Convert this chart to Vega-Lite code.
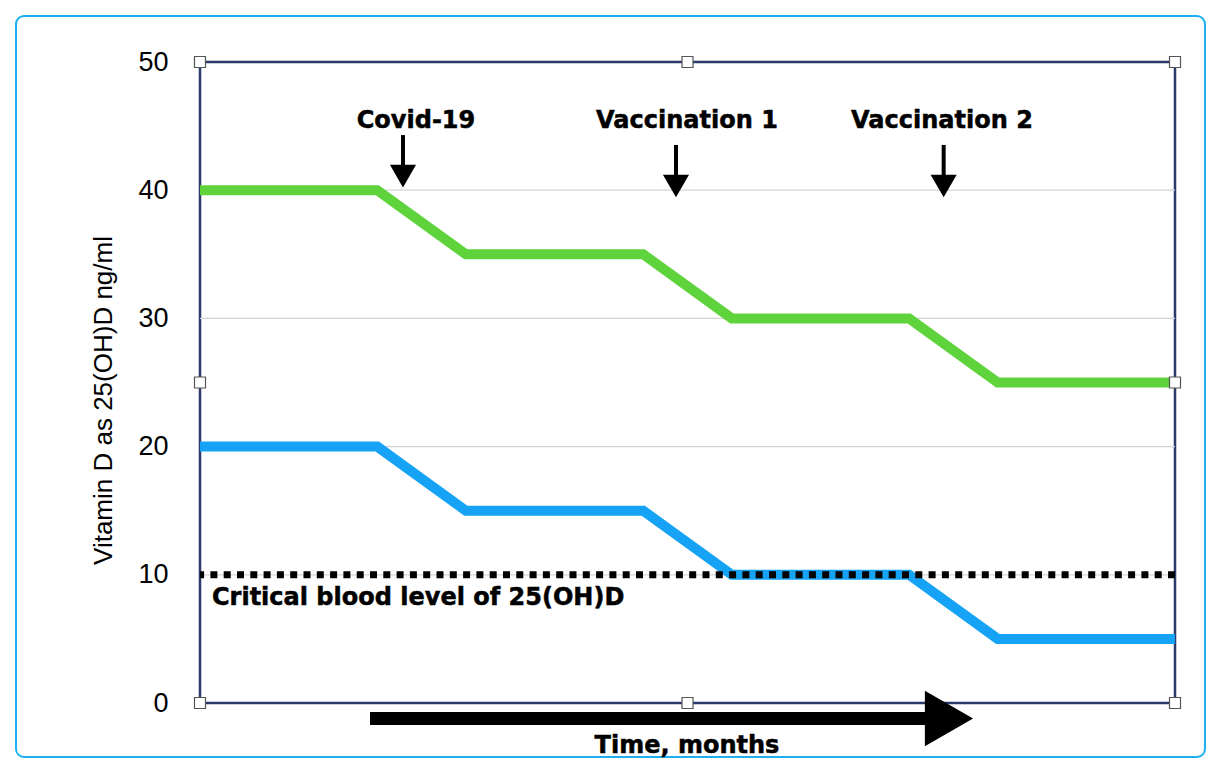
{
  "$schema": "https://vega.github.io/schema/vega-lite/v6.json",
  "width": 975,
  "height": 641,
  "autosize": {"type": "none"},
  "padding": {"left": 200, "top": 62, "right": 46, "bottom": 70},
  "background": "white",
  "config": {
    "view": {"stroke": "#2a3a6c", "strokeWidth": 2.5},
    "font": "Liberation Sans"
  },
  "datasets": {
    "series": [
      {"t": 0, "level": 40, "group": "high"},
      {"t": 2, "level": 40, "group": "high"},
      {"t": 3, "level": 35, "group": "high"},
      {"t": 5, "level": 35, "group": "high"},
      {"t": 6, "level": 30, "group": "high"},
      {"t": 8, "level": 30, "group": "high"},
      {"t": 9, "level": 25, "group": "high"},
      {"t": 11, "level": 25, "group": "high"},
      {"t": 0, "level": 20, "group": "low"},
      {"t": 2, "level": 20, "group": "low"},
      {"t": 3, "level": 15, "group": "low"},
      {"t": 5, "level": 15, "group": "low"},
      {"t": 6, "level": 10, "group": "low"},
      {"t": 8, "level": 10, "group": "low"},
      {"t": 9, "level": 5, "group": "low"},
      {"t": 11, "level": 5, "group": "low"}
    ],
    "gridlines": [{"level": 10}, {"level": 20}, {"level": 30}, {"level": 40}],
    "threshold": [{"level": 10, "t": 0.135, "labelLevel": 7.64, "label": "Critical blood level of 25(OH)D"}],
    "events": [
      {"label": "Covid-19", "labelT": 2.437, "labelLevel": 44.85, "arrowT": 2.29, "top": 44.3, "head": 41.1},
      {"label": "Vaccination 1", "labelT": 5.494, "labelLevel": 44.85, "arrowT": 5.37, "top": 43.53, "head": 40.33},
      {"label": "Vaccination 2", "labelT": 8.371, "labelLevel": 44.85, "arrowT": 8.39, "top": 43.53, "head": 40.33}
    ],
    "timeArrow": [{"start": 1.918, "end": 8.3, "head": 8.45, "level": -1.209, "label": "Time, months", "labelT": 5.494, "labelLevel": -3.9}],
    "frame": [{"t1": -2.076, "t2": 11.338, "l1": 53.588, "l2": -4.212}],
    "handles": [
      {"t": 0, "level": 50}, {"t": 5.5, "level": 50}, {"t": 11, "level": 50},
      {"t": 0, "level": 25}, {"t": 11, "level": 25},
      {"t": 0, "level": 0}, {"t": 5.5, "level": 0}, {"t": 11, "level": 0}
    ]
  },
  "layer": [
    {
      "data": {"name": "frame"},
      "mark": {"type": "rect", "filled": false, "stroke": "#1cb0f0", "strokeWidth": 2, "cornerRadius": 8},
      "encoding": {
        "x": {"field": "t1", "type": "quantitative", "scale": {"domain": [0, 11], "nice": false}, "axis": null},
        "x2": {"field": "t2"},
        "y": {"field": "l1", "type": "quantitative", "scale": {"domain": [0, 50], "nice": false}, "title": "Vitamin D as 25(OH)D ng/ml"},
        "y2": {"field": "l2"}
      }
    },
    {
      "data": {"name": "gridlines"},
      "mark": {"type": "rule", "color": "#d4d4d4", "strokeWidth": 1.2},
      "encoding": {
        "y": {"field": "level", "type": "quantitative", "scale": {"domain": [0, 50], "nice": false}, "title": "Vitamin D as 25(OH)D ng/ml"}
      }
    },
    {
      "data": {"name": "series"},
      "mark": {"type": "line", "strokeWidth": 10, "strokeJoin": "miter"},
      "encoding": {
        "x": {"field": "t", "type": "quantitative", "scale": {"domain": [0, 11], "nice": false}, "axis": null},
        "y": {
          "field": "level", "type": "quantitative",
          "scale": {"domain": [0, 50], "nice": false},
          "title": "Vitamin D as 25(OH)D ng/ml",
          "axis": {
            "values": [0, 10, 20, 30, 40, 50],
            "titleFont": "Liberation Sans", "titleFontSize": 26, "titleFontWeight": "normal", "titleColor": "black",
            "titleX": -89, "titleY": 338, "titleBaseline": "alphabetic", "titleAngle": -90, "titleAlign": "center",
            "labelFont": "Liberation Sans", "labelFontSize": 27, "labelColor": "black", "labelPadding": 32,
            "ticks": false, "domain": false, "grid": false
          }
        },
        "color": {"field": "group", "type": "nominal", "scale": {"domain": ["high", "low"], "range": ["#5ed33b", "#16a3f6"]}, "legend": null},
        "detail": {"field": "group"}
      }
    },
    {
      "data": {"name": "threshold"},
      "mark": {"type": "rule", "color": "black", "strokeWidth": 7, "strokeDash": [7, 6.3], "strokeCap": "butt"},
      "encoding": {
        "y": {"field": "level", "type": "quantitative", "scale": {"domain": [0, 50], "nice": false}, "title": "Vitamin D as 25(OH)D ng/ml"}
      }
    },
    {
      "data": {"name": "threshold"},
      "mark": {"type": "text", "font": "DejaVu Sans", "fontWeight": "bold", "fontSize": 24, "align": "left", "baseline": "alphabetic", "color": "black", "stroke": "black", "strokeWidth": 0.5},
      "encoding": {
        "x": {"field": "t", "type": "quantitative", "scale": {"domain": [0, 11], "nice": false}, "axis": null},
        "y": {"field": "labelLevel", "type": "quantitative", "scale": {"domain": [0, 50], "nice": false}, "title": "Vitamin D as 25(OH)D ng/ml"},
        "text": {"field": "label"}
      }
    },
    {
      "data": {"name": "events"},
      "mark": {"type": "text", "font": "DejaVu Sans", "fontWeight": "bold", "fontSize": 24, "align": "center", "baseline": "alphabetic", "color": "black", "stroke": "black", "strokeWidth": 0.5},
      "encoding": {
        "x": {"field": "labelT", "type": "quantitative", "scale": {"domain": [0, 11], "nice": false}, "axis": null},
        "y": {"field": "labelLevel", "type": "quantitative", "scale": {"domain": [0, 50], "nice": false}, "title": "Vitamin D as 25(OH)D ng/ml"},
        "text": {"field": "label"}
      }
    },
    {
      "data": {"name": "events"},
      "mark": {"type": "rule", "color": "black", "strokeWidth": 4},
      "encoding": {
        "x": {"field": "arrowT", "type": "quantitative", "scale": {"domain": [0, 11], "nice": false}, "axis": null},
        "y": {"field": "top", "type": "quantitative", "scale": {"domain": [0, 50], "nice": false}, "title": "Vitamin D as 25(OH)D ng/ml"},
        "y2": {"field": "head"}
      }
    },
    {
      "data": {"name": "events"},
      "mark": {"type": "point", "shape": "triangle-down", "size": 680, "filled": true, "color": "black", "opacity": 1, "strokeWidth": 0},
      "encoding": {
        "x": {"field": "arrowT", "type": "quantitative", "scale": {"domain": [0, 11], "nice": false}, "axis": null},
        "y": {"field": "head", "type": "quantitative", "scale": {"domain": [0, 50], "nice": false}, "title": "Vitamin D as 25(OH)D ng/ml"}
      }
    },
    {
      "data": {"name": "timeArrow"},
      "mark": {"type": "rule", "color": "black", "strokeWidth": 13, "strokeCap": "butt"},
      "encoding": {
        "x": {"field": "start", "type": "quantitative", "scale": {"domain": [0, 11], "nice": false}, "axis": null},
        "x2": {"field": "end"},
        "y": {"field": "level", "type": "quantitative", "scale": {"domain": [0, 50], "nice": false}, "title": "Vitamin D as 25(OH)D ng/ml"}
      }
    },
    {
      "data": {"name": "timeArrow"},
      "mark": {"type": "point", "shape": "triangle-right", "size": 3100, "filled": true, "color": "black", "opacity": 1, "strokeWidth": 0},
      "encoding": {
        "x": {"field": "head", "type": "quantitative", "scale": {"domain": [0, 11], "nice": false}, "axis": null},
        "y": {"field": "level", "type": "quantitative", "scale": {"domain": [0, 50], "nice": false}, "title": "Vitamin D as 25(OH)D ng/ml"}
      }
    },
    {
      "data": {"name": "timeArrow"},
      "mark": {"type": "text", "font": "DejaVu Sans", "fontWeight": "bold", "fontSize": 24, "align": "center", "baseline": "alphabetic", "color": "black", "stroke": "black", "strokeWidth": 0.5},
      "encoding": {
        "x": {"field": "labelT", "type": "quantitative", "scale": {"domain": [0, 11], "nice": false}, "axis": null},
        "y": {"field": "labelLevel", "type": "quantitative", "scale": {"domain": [0, 50], "nice": false}, "title": "Vitamin D as 25(OH)D ng/ml"},
        "text": {"field": "label"}
      }
    },
    {
      "data": {"name": "handles"},
      "mark": {"type": "point", "shape": "square", "size": 121, "filled": true, "fill": "white", "stroke": "#555555", "strokeWidth": 1.2, "opacity": 1},
      "encoding": {
        "x": {"field": "t", "type": "quantitative", "scale": {"domain": [0, 11], "nice": false}, "axis": null},
        "y": {"field": "level", "type": "quantitative", "scale": {"domain": [0, 50], "nice": false}, "title": "Vitamin D as 25(OH)D ng/ml"}
      }
    }
  ]
}
